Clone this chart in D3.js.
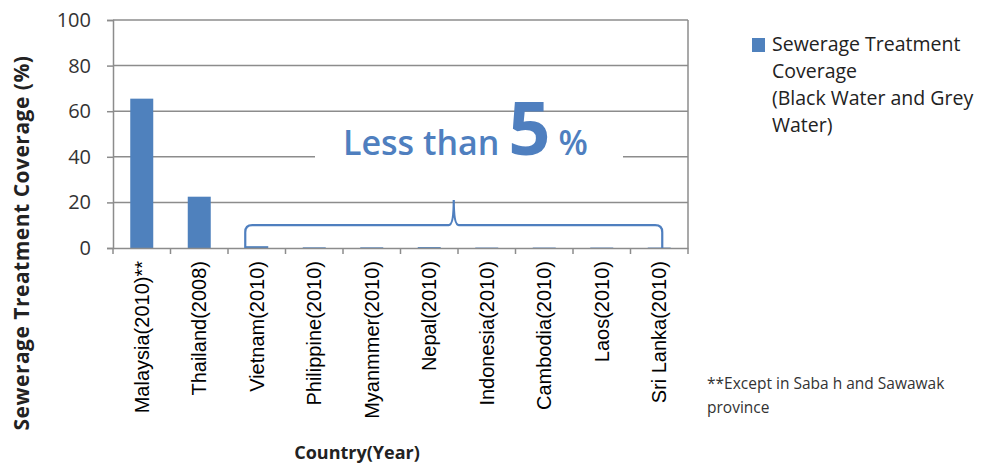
<!DOCTYPE html>
<html><head><meta charset="utf-8">
<script src="https://cdn.jsdelivr.net/npm/d3@7"></script>
<style>body{margin:0;background:#fff}svg{display:block}</style>
</head><body>
<svg id="c" width="982" height="465"></svg>
<script>
const categories = ["Malaysia(2010)**","Thailand(2008)","Vietnam(2010)","Philippine(2010)","Myanmmer(2010)","Nepal(2010)","Indonesia(2010)","Cambodia(2010)","Laos(2010)","Sri Lanka(2010)"];
const coverage = [65.5, 22.5, 0.8, 0.3, 0.3, 0.4, 0.2, 0.2, 0.2, 0.2];
const yTicks = [0, 20, 40, 60, 80, 100];
const legendLines = ["Sewerage Treatment","Coverage","(Black Water and Grey","Water)"];
const footnoteLines = ["**Except in Saba h and Sawawak","province"];

const svg = d3.select("#c");
const m = {l:113, r:688, t:20, b:248};
const x = d3.scaleBand().domain(categories).range([m.l, m.r]).paddingInner(0).paddingOuter(0);
const y = d3.scaleLinear().domain([0,100]).range([m.b, m.t]);
const blue = "#4F81BD", grid = "#8c8c8c", txtBlue = "#4f7fbf";
const sans = "'Open Sans', sans-serif";

// gridlines
svg.append("g").selectAll("line").data(yTicks.filter(d=>d>0)).join("line")
  .attr("x1", m.l).attr("x2", m.r).attr("y1", d=>y(d)).attr("y2", d=>y(d))
  .attr("stroke", grid).attr("stroke-width", 1.5);
// right border
svg.append("line").attr("x1", m.r).attr("x2", m.r).attr("y1", m.t).attr("y2", m.b)
  .attr("stroke", grid).attr("stroke-width", 1.5);

// white box behind annotation
svg.append("rect").attr("x", 315).attr("y", y(56)).attr("width", 308).attr("height", y(25)-y(56)).attr("fill", "#fff");

// bars
const bw = x.bandwidth()*0.4;
svg.append("g").selectAll("rect").data(coverage).join("rect")
  .attr("x", (d,i)=>x(categories[i]) + x.bandwidth()/2 - bw/2)
  .attr("y", d=>y(d)).attr("width", bw).attr("height", d=>y(0)-y(d))
  .attr("fill", blue);

// y axis
const ya = svg.append("g").attr("transform", `translate(${m.l},0)`)
  .call(d3.axisLeft(y).tickValues(yTicks).tickSize(6).tickPadding(16));
ya.select(".domain").attr("stroke", grid).attr("stroke-width", 1.5);
ya.selectAll(".tick line").attr("stroke", grid).attr("stroke-width", 1.5);
ya.selectAll("text").attr("font-family", sans).attr("font-size", 20).attr("fill", "#333");

// x axis
const xa = svg.append("g").attr("transform", `translate(0,${m.b})`)
  .call(d3.axisBottom(x).tickSize(0).tickFormat(d=>d));
xa.attr("font-family", null);
xa.select(".domain").attr("stroke", grid).attr("stroke-width", 1.5);
xa.selectAll(".tick line").remove();
xa.selectAll(".tick text").style("font-family", "'Liberation Sans', Arial, sans-serif").attr("font-size", 20).attr("fill", "#000")
  .attr("text-anchor", "end").attr("transform", "rotate(-90)").attr("x", -13).attr("y", 0).attr("dy", "0.35em");
// boundary ticks
const bounds = categories.map(c=>x(c)).concat([m.r]);
svg.append("g").selectAll("line").data(bounds).join("line")
  .attr("x1", d=>d).attr("x2", d=>d).attr("y1", m.b).attr("y2", m.b+6)
  .attr("stroke", grid).attr("stroke-width", 1.5);

// brace
const bx0 = x(categories[2]) + x.bandwidth()/2 - bw/2;
const bx1 = x(categories[9]) + x.bandwidth()/2 + 3;
const bmid = (bx0+bx1)/2, by = y(10), btip = y(21), y0 = y(0);
const r = 7;
const p = d3.path();
p.moveTo(bx0, y0);
p.lineTo(bx0, by + r);
p.quadraticCurveTo(bx0, by, bx0 + r, by);
p.lineTo(bmid - 5, by);
p.quadraticCurveTo(bmid, by, bmid, btip);
p.quadraticCurveTo(bmid, by, bmid + 5, by);
p.lineTo(bx1 - r, by);
p.quadraticCurveTo(bx1, by, bx1, by + r);
p.lineTo(bx1, y0);
svg.append("path").attr("d", p.toString()).attr("fill", "none").attr("stroke", txtBlue).attr("stroke-width", 2.2);

// annotation text
const ann = svg.append("text").attr("x", 343).attr("y", y(40.6)).attr("font-family", sans).attr("fill", txtBlue);
ann.append("tspan").attr("font-size", 34).attr("font-weight", 600).text("Less than ");
ann.append("tspan").attr("font-size", 74).attr("font-weight", 700).text("5");
ann.append("tspan").attr("font-size", 34).attr("font-weight", 600).attr("dx", 8).text("%");

// axis titles
svg.append("text").attr("transform", `translate(29,243) rotate(-90)`).attr("text-anchor", "middle")
  .attr("font-family", sans).attr("font-weight", 700).attr("font-size", 21).attr("letter-spacing", 0.5).attr("fill", "#222")
  .text("Sewerage Treatment Coverage  (%)");
svg.append("text").attr("x", 357).attr("y", 459).attr("text-anchor", "middle")
  .attr("font-family", sans).attr("font-weight", 700).attr("font-size", 18).attr("fill", "#222")
  .text("Country(Year)");

// legend
svg.append("rect").attr("x", 752).attr("y", 38).attr("width", 13).attr("height", 14).attr("fill", blue);
svg.append("g").selectAll("text").data(legendLines).join("text")
  .attr("x", 772).attr("y", (d,i)=>51 + i*27).attr("font-family", sans).attr("font-size", 19.5).attr("fill", "#222").text(d=>d);

// footnote
svg.append("g").selectAll("text").data(footnoteLines).join("text")
  .attr("x", 707).attr("y", (d,i)=>389 + i*24).attr("font-family", sans).attr("font-size", 15.5).attr("fill", "#333").text(d=>d);
</script>
</body></html>
